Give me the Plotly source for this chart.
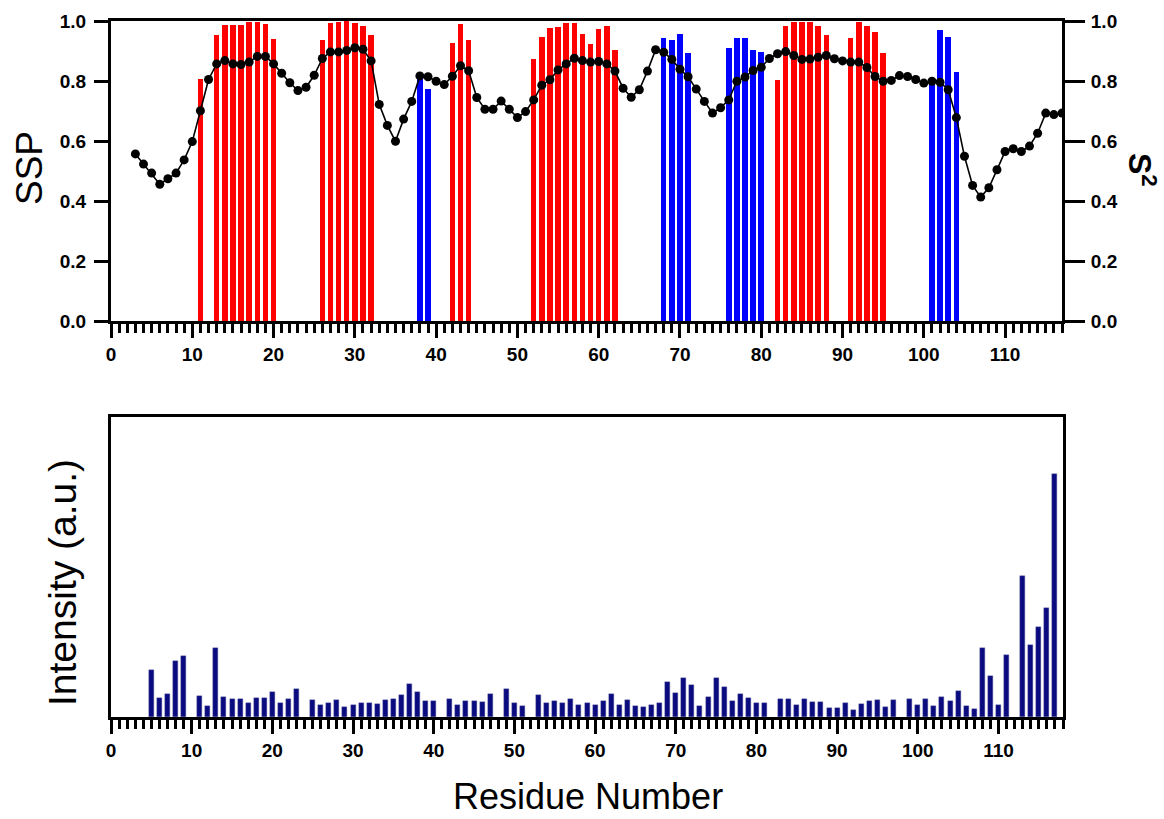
import plotly.graph_objects as go

W, H = 1164, 819
FONT = "Liberation Sans, Arial, Helvetica, sans-serif"

# Secondary structure propensity (SSP): helical residues (red) and strand residues (blue)
helix_res = [11, 13, 14, 15, 16, 17, 18, 19, 20,
             26, 27, 28, 29, 30, 31, 32,
             42, 43, 44,
             52, 53, 54, 55, 56, 57, 58, 59, 60, 61, 62,
             82, 83, 84, 85, 86, 87, 88,
             91, 92, 93, 94, 95]
helix_ssp = [0.807, 0.954, 0.988, 0.988, 0.988, 0.996, 0.998, 0.991, 0.939,
             0.938, 0.993, 0.998, 1.000, 0.993, 0.983, 0.952,
             0.926, 0.989, 0.937,
             0.874, 0.947, 0.978, 0.981, 0.992, 0.993, 0.956, 0.925, 0.974, 0.983, 0.904,
             0.805, 0.982, 0.998, 0.998, 0.998, 0.984, 0.952,
             0.942, 0.996, 0.982, 0.965, 0.893]

strand_res = [38, 39, 68, 69, 70, 71, 76, 77, 78, 79, 80, 101, 102, 103, 104]
strand_ssp = [0.815, 0.772, 0.945, 0.936, 0.958, 0.893,
              0.909, 0.943, 0.943, 0.905, 0.897,
              0.800, 0.971, 0.946, 0.829]

# Random-coil-index order parameter S2, residues 3-117
s2_res = list(range(3, 118))
s2_val = [0.557, 0.523, 0.493, 0.456, 0.474, 0.493, 0.537, 0.598, 0.701, 0.805,
          0.857, 0.868, 0.857, 0.855, 0.863, 0.882, 0.882, 0.857, 0.826, 0.794,
          0.768, 0.779, 0.819, 0.875, 0.897, 0.897, 0.902, 0.911, 0.906, 0.867,
          0.722, 0.652, 0.599, 0.673, 0.732, 0.817, 0.814, 0.799, 0.788, 0.816,
          0.851, 0.834, 0.745, 0.706, 0.706, 0.733, 0.706, 0.678, 0.698, 0.737,
          0.786, 0.804, 0.837, 0.857, 0.876, 0.868, 0.863, 0.865, 0.857, 0.833,
          0.776, 0.746, 0.771, 0.833, 0.904, 0.896, 0.872, 0.839, 0.814, 0.773,
          0.732, 0.693, 0.711, 0.737, 0.799, 0.813, 0.835, 0.846, 0.875, 0.891,
          0.898, 0.885, 0.872, 0.873, 0.879, 0.885, 0.874, 0.867, 0.863, 0.863,
          0.845, 0.815, 0.799, 0.802, 0.818, 0.815, 0.805, 0.793, 0.799, 0.796,
          0.771, 0.678, 0.549, 0.452, 0.413, 0.444, 0.504, 0.565, 0.574, 0.565,
          0.583, 0.626, 0.693, 0.688, 0.693]

# Peak intensities per residue (arbitrary units)
int_res = [5, 6, 7, 8, 9, 11, 12, 13, 14, 15, 16, 17, 18, 19, 20, 21, 22, 23,
           25, 26, 27, 28, 29, 30, 31, 32, 33, 34, 35, 36, 37, 38, 39, 40,
           42, 43, 44, 45, 46, 47, 49, 50, 51,
           53, 54, 55, 56, 57, 58, 59, 60, 61, 62, 63, 64, 65, 66, 67, 68, 69, 70,
           71, 72, 73, 74, 75, 76, 77, 78, 79, 80, 81,
           83, 84, 85, 86, 87, 88, 89, 90, 91, 92, 93, 94, 95, 96, 97,
           99, 100, 101, 102, 103, 104, 105, 106, 107, 108, 109, 110, 111,
           113, 114, 115, 116, 117]
int_val = [0.156, 0.065, 0.076, 0.186, 0.203, 0.069, 0.038, 0.231, 0.067, 0.059,
           0.061, 0.046, 0.062, 0.064, 0.082, 0.047, 0.059, 0.093,
           0.056, 0.039, 0.048, 0.056, 0.032, 0.040, 0.046, 0.047, 0.044, 0.057,
           0.061, 0.075, 0.109, 0.083, 0.053, 0.052,
           0.059, 0.039, 0.052, 0.053, 0.049, 0.078, 0.094, 0.048, 0.036,
           0.072, 0.048, 0.053, 0.047, 0.061, 0.039, 0.047, 0.039, 0.053, 0.078,
           0.041, 0.057, 0.037, 0.033, 0.041, 0.046, 0.116, 0.080,
           0.131, 0.108, 0.038, 0.068, 0.130, 0.101, 0.055, 0.077, 0.065, 0.048, 0.048,
           0.059, 0.061, 0.041, 0.060, 0.050, 0.051, 0.030, 0.029, 0.048, 0.024,
           0.044, 0.052, 0.056, 0.033, 0.056,
           0.060, 0.041, 0.061, 0.036, 0.066, 0.053, 0.086, 0.036, 0.028, 0.231,
           0.138, 0.039, 0.206,
           0.470, 0.240, 0.299, 0.364, 0.810]


def fx(px):
    return px / W


def fy(px):
    return 1 - px / H


tick_font = dict(family=FONT, size=19, color="black", weight="bold")
title_font = dict(family=FONT, size=37, color="black")

fig = go.Figure()
fig.add_trace(go.Bar(x=helix_res, y=helix_ssp, width=0.68, marker_color="#ff0000",
                     marker_line_width=0, xaxis="x", yaxis="y", showlegend=False))
fig.add_trace(go.Bar(x=strand_res, y=strand_ssp, width=0.68, marker_color="#0000ff",
                     marker_line_width=0, xaxis="x", yaxis="y", showlegend=False))
fig.add_trace(go.Scatter(x=s2_res, y=s2_val, mode="lines+markers",
                         line=dict(color="black", width=1.6),
                         marker=dict(color="black", size=9),
                         xaxis="x", yaxis="y2", showlegend=False))
fig.add_trace(go.Bar(x=int_res, y=int_val, width=0.62, marker_color="#0b0b80",
                     marker_line=dict(color="#5a5a9a", width=0.4),
                     xaxis="x2", yaxis="y3", showlegend=False))

# Fixed axis geometry: no automatic margin growth from tick labels
axis_common = dict(showgrid=False, zeroline=False, showline=True, linecolor="black",
                   linewidth=3, tickcolor="black", tickfont=tick_font,
                   automargin=False)

minor_ticks = dict(dtick=1, tick0=0, ticks="outside", ticklen=9, tickwidth=2.5,
                   tickcolor="black", showgrid=False)

fig.update_layout(
    width=W, height=H, autosize=False,
    margin=dict(l=0, r=0, t=0, b=0, autoexpand=False),
    paper_bgcolor="white", plot_bgcolor="white",
    barmode="overlay", bargap=0,
    xaxis=dict(axis_common, domain=[fx(111), fx(1062)], range=[0, 117], anchor="y",
               mirror=True, ticks="outside", ticklen=14, tickwidth=3,
               tick0=0, dtick=10, minor=minor_ticks, ticklabelstandoff=0),
    yaxis=dict(axis_common, domain=[fy(321), fy(21)], range=[0, 1], anchor="x",
               ticks="outside", ticklen=14, tickwidth=3, tick0=0, dtick=0.2,
               tickformat=".1f", ticklabelstandoff=4),
    yaxis2=dict(axis_common, overlaying="y", side="right", range=[0, 1], anchor="x",
                ticks="outside", ticklen=20, tickwidth=3, tick0=0, dtick=0.2,
                tickformat=".1f", ticklabelstandoff=2),
    xaxis2=dict(axis_common, domain=[fx(111), fx(1063)], range=[0, 118], anchor="y3",
                mirror=True, ticks="outside", ticklen=14, tickwidth=3,
                tick0=0, dtick=10, minor=minor_ticks, ticklabelstandoff=0),
    yaxis3=dict(axis_common, domain=[fy(717), fy(417)], range=[0, 1], anchor="x2",
                mirror=True, ticks="", showticklabels=False),
    annotations=[
        dict(text="SSP", x=fx(30), y=fy(168), xref="paper", yref="paper",
             textangle=-90, showarrow=False, font=title_font,
             xanchor="center", yanchor="middle"),
        dict(text="S<sup>2</sup>", x=fx(1142), y=fy(170), xref="paper", yref="paper",
             textangle=90, showarrow=False,
             font=dict(family=FONT, size=32, color="black", weight="bold"),
             xanchor="center", yanchor="middle"),
        dict(text="Intensity (a.u.)", x=fx(62), y=fy(583), xref="paper", yref="paper",
             textangle=-90, showarrow=False,
             font=dict(family=FONT, size=39, color="black"),
             xanchor="center", yanchor="middle"),
        dict(text="Residue Number", x=fx(588), y=fy(796), xref="paper", yref="paper",
             showarrow=False, font=dict(family=FONT, size=36, color="black"),
             borderpad=0, xanchor="center", yanchor="middle"),
    ],
)

fig.write_html("out.html")
